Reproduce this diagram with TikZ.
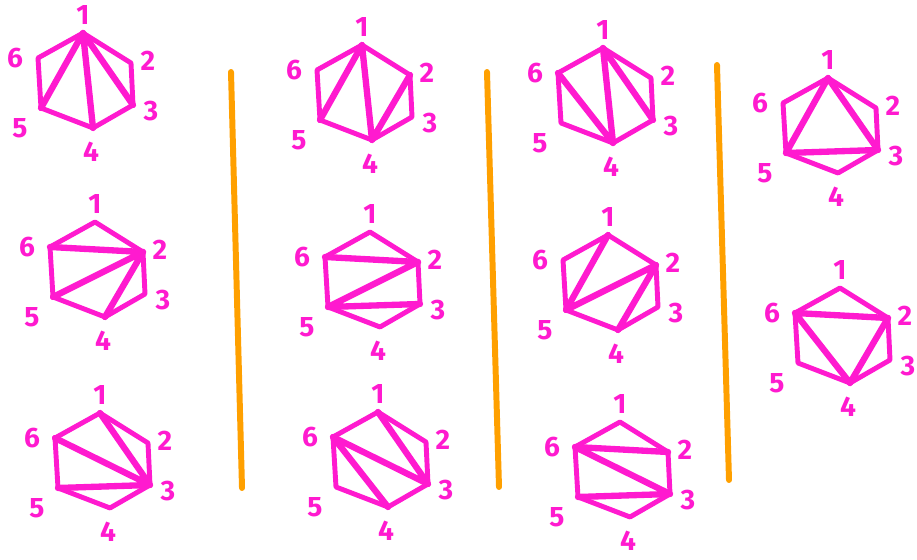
\documentclass[tikz,border=0pt]{standalone}
\usepackage{fontspec}
\setmainfont{Fira Sans}
\usepackage{tikz}
\usetikzlibrary{positioning}
\definecolor{pen}{HTML}{FF1ACF}
\definecolor{divider}{HTML}{FFA000}

\tikzset{
  side/.style={draw=pen, line width=2.8pt, line cap=round, line join=round},
  diag/.style={draw=pen, line width=3.6pt, line cap=round},
  num/.style={text=pen, inner sep=0pt, font=\bfseries\fontsize{16}{16}\selectfont},
  sep/.style={draw=divider, line width=3.4pt, line cap=round}
}

% one hexagon with its corners 1..6 and their numbers
\newcommand{\hexframe}[2]{%
  \begin{scope}[shift={(#2)}]
    \coordinate (#1-1) at (0,0);
    \coordinate (#1-2) at (48,30);
    \coordinate (#1-3) at (50,72);
    \coordinate (#1-4) at (10,95);
    \coordinate (#1-5) at (-42,75);
    \coordinate (#1-6) at (-45,25);
    \node[num] (#1-n1) at (0,-18) {1};
    \node[num] (#1-n2) at (65,28) {2};
    \node[num] (#1-n3) at (68,78) {3};
    \node[num] (#1-n4) at (8,119) {4};
    \node[num] (#1-n5) at (-63,95) {5};
    \node[num] (#1-n6) at (-68,25) {6};
    \draw[side] (#1-1) -- (#1-2) -- (#1-3) -- (#1-4) -- (#1-5) -- (#1-6) -- cycle;
  \end{scope}}

\begin{document}
\begin{tikzpicture}[x=0.02cm, y=-0.02cm]
    \useasboundingbox (0,0) rectangle (917,560);

    % first column
    \hexframe{a}{83,33}
    \draw[diag] (a-1) -- (a-3) (a-1) -- (a-4) (a-1) -- (a-5);
    \hexframe{b}{95,222}
    \draw[diag] (b-2) -- (b-6) (b-2) -- (b-5) (b-2) -- (b-4);
    \hexframe{c}{100,413}
    \draw[diag] (c-3) -- (c-1) (c-3) -- (c-6) (c-3) -- (c-5);

    % second column
    \hexframe{d}{362,45}
    \draw[diag] (d-1) -- (d-5) (d-1) -- (d-4) (d-2) -- (d-4);
    \hexframe{e}{370,232}
    \draw[diag] (e-2) -- (e-6) (e-2) -- (e-5) (e-3) -- (e-5);
    \hexframe{f}{378,412}
    \draw[diag] (f-1) -- (f-3) (f-3) -- (f-6) (f-4) -- (f-6);

    % third column
    \hexframe{g}{603,48}
    \draw[diag] (g-1) -- (g-4) (g-1) -- (g-3) (g-4) -- (g-6);
    \hexframe{h}{608,235}
    \draw[diag] (h-1) -- (h-5) (h-2) -- (h-5) (h-2) -- (h-4);
    \hexframe{i}{620,422}
    \draw[diag] (i-2) -- (i-6) (i-3) -- (i-6) (i-3) -- (i-5);

    % fourth column
    \hexframe{j}{828,78}
    \draw[diag] (j-1) -- (j-3) (j-1) -- (j-5) (j-3) -- (j-5);
    \hexframe{k}{840,288}
    \draw[diag] (k-2) -- (k-6) (k-2) -- (k-4) (k-4) -- (k-6);

    % separators
    \coordinate (s1top) at (231,72);
    \coordinate (s1bot) at (242,488);
    \coordinate (s2top) at (487,72);
    \coordinate (s2bot) at (499,487);
    \coordinate (s3top) at (717,65);
    \coordinate (s3bot) at (729,480);
    \draw[sep] (s1top) -- (s1bot);
    \draw[sep] (s2top) -- (s2bot);
    \draw[sep] (s3top) -- (s3bot);
\end{tikzpicture}
\end{document}
